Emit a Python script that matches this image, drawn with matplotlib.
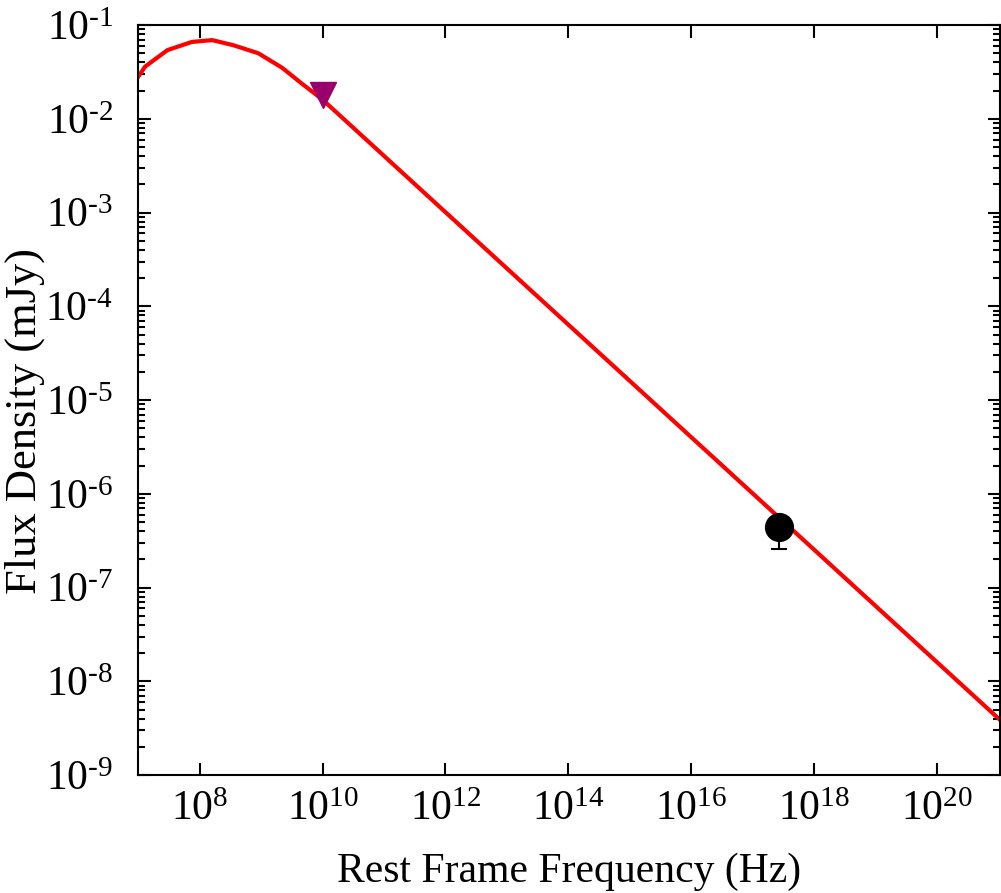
import numpy as np
import matplotlib
matplotlib.use("Agg")
import matplotlib.pyplot as plt
from matplotlib.ticker import LogLocator, FixedLocator, NullLocator, FuncFormatter

# model spectrum
model_freq = [1.0e7, 1.3e7, 3.0e7, 7.5e7, 1.6e8, 3.5e8, 9.0e8, 2.2e9, 4.5e9, 1.0e10, 1.0e21]
model_flux = [0.028, 0.036, 0.054, 0.066, 0.069, 0.061, 0.050, 0.035, 0.024, 0.016, 4.0e-9]

# radio upper limit
limit_freq = [1.0e10]
limit_flux = [0.0178]

# X-ray detection (only the lower error shows below the marker)
xray_freq = [2.65e17]
xray_flux = [4.4e-7]
xray_err_lo = [1.85e-7]
xray_err_hi = [0.0]

xtick_vals = [1e8, 1e10, 1e12, 1e14, 1e16, 1e18, 1e20]

plt.rcParams['font.family'] = ['Liberation Serif', 'DejaVu Serif']
plt.rcParams['mathtext.fontset'] = 'custom'
plt.rcParams['mathtext.rm'] = 'Liberation Serif'
plt.rcParams['mathtext.it'] = 'Liberation Serif:italic'
plt.rcParams['mathtext.bf'] = 'Liberation Serif:bold'

fig = plt.figure(figsize=(10.01, 8.93), dpi=100)
ax = fig.add_axes([0.138, 0.132, 0.861, 0.840])

ax.plot(model_freq, model_flux, color='red', lw=3.0, zorder=2)
ax.plot(limit_freq, limit_flux, marker='v', ls='none', color='#99006b', ms=19, zorder=3)
ax.errorbar(xray_freq, xray_flux, yerr=[xray_err_lo, xray_err_hi], fmt='o', color='black',
            ms=20, elinewidth=1.5, capsize=6, capthick=1.5, zorder=4)

ax.set_xscale('log')
ax.set_yscale('log')
ax.set_xlim(1e7, 1.05e21)
ax.set_ylim(1e-9, 1e-1)

ax.xaxis.set_major_locator(FixedLocator(xtick_vals))
ax.xaxis.set_minor_locator(NullLocator())
ax.yaxis.set_major_locator(LogLocator(base=10, numticks=20))
ax.yaxis.set_minor_locator(LogLocator(base=10, subs=np.arange(2, 10), numticks=20))


def fmt(v, pos):
    e = int(round(np.log10(v)))
    if e < 0:
        return r'$10^{\text{-}%d}$' % (-e)
    return r'$10^{%d}$' % e


ax.xaxis.set_major_formatter(FuncFormatter(fmt))
ax.yaxis.set_major_formatter(FuncFormatter(fmt))

ax.tick_params(which='both', direction='in', top=True, right=True, width=1.5)
ax.tick_params(which='major', length=9, labelsize=30)
ax.tick_params(which='minor', length=5)
ax.tick_params(axis='x', pad=11)
ax.tick_params(axis='y', pad=18)
for s in ax.spines.values():
    s.set_linewidth(1.5)

ax.set_xlabel('Rest Frame Frequency (Hz)', fontsize=30, labelpad=17)
ax.set_ylabel('Flux Density (mJy)', fontsize=32)
ax.yaxis.set_label_coords(-0.108, 0.472)

fig.savefig('out.png', dpi=100)
